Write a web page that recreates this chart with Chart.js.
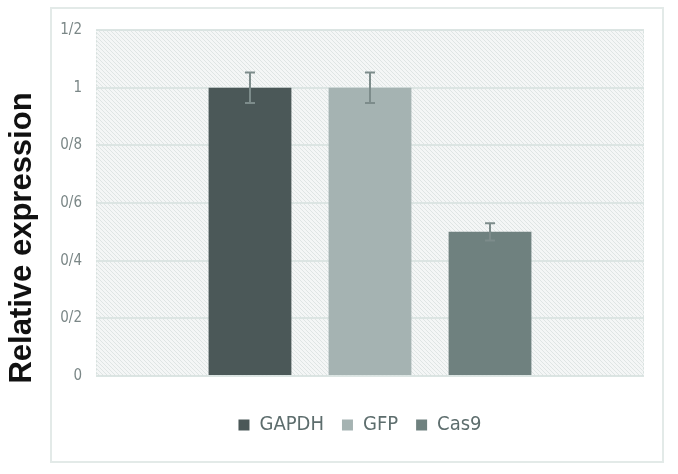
<!DOCTYPE html>
<html>
<head>
<meta charset="utf-8">
<script src="https://cdn.jsdelivr.net/npm/chart.js@4"></script>
<style>
  html, body { margin: 0; padding: 0; background: #fff; }
  #wrap { position: relative; width: 678px; height: 474px; }
  #frame { position: absolute; left: 50px; top: 7px; width: 610px; height: 452px; border: 2px solid #e3eae8; }
  canvas { position: absolute; left: 0; top: 0; }
</style>
</head>
<body>
<div id="wrap">
  <div id="frame"></div>
  <canvas id="chart" width="678" height="474"></canvas>
</div>
<script>
const categories = ['GAPDH', 'GFP', 'Cas9'];
const values = [1, 1, 0.5];
const errors = [0.053, 0.053, 0.03];
const colors = ['#4b5858', '#a5b3b2', '#6f817f'];
const yTickLabels = ['0', '0/2', '0/4', '0/6', '0/8', '1', '1/2'];
const yTitle = 'Relative expression';

const narrow = "'Liberation Sans Narrow', 'DejaVu Sans Condensed', sans-serif";

// diagonal hatch used behind the plot
function makeHatch() {
  const c = document.createElement('canvas');
  c.width = 4; c.height = 4;
  const g = c.getContext('2d');
  g.fillStyle = '#f4f6f6';
  g.fillRect(0, 0, 4, 4);
  g.strokeStyle = '#dfe5e4';
  g.lineWidth = 1;
  g.beginPath();
  g.moveTo(-1, -1); g.lineTo(5, 5);
  g.moveTo(-1, 3); g.lineTo(1, 5);
  g.moveTo(3, -1); g.lineTo(5, 1);
  g.stroke();
  return c;
}

const plotBg = {
  id: 'plotBg',
  afterLayout(chart) {
    // legend sits centred under the frame, not the whole canvas
    chart.legend.left = 76;
  },
  beforeDraw(chart) {
    const { ctx, chartArea: a } = chart;
    ctx.save();
    ctx.fillStyle = ctx.createPattern(makeHatch(), 'repeat');
    ctx.fillRect(a.left, a.top, a.right - a.left, a.bottom - a.top);
    ctx.restore();
  },
  afterDraw(chart) {
    const { ctx, chartArea: a } = chart;
    ctx.save();
    ctx.strokeStyle = '#d9e2e0';
    ctx.lineWidth = 1;
    ctx.setLineDash([2, 2]);
    ctx.strokeRect(a.left + 0.5, a.top + 0.5, a.right - a.left - 1, a.bottom - a.top - 1);
    ctx.restore();
    // y axis title
    ctx.save();
    ctx.translate(22, 238);
    ctx.rotate(-Math.PI / 2);
    ctx.font = "bold 31px 'Liberation Sans', Arial, sans-serif";
    ctx.fillStyle = '#111';
    ctx.textAlign = 'center';
    ctx.textBaseline = 'middle';
    ctx.fillText(yTitle, 0, 0);
    ctx.restore();
  }
};

const errorBars = {
  id: 'errorBars',
  afterDatasetsDraw(chart) {
    const { ctx } = chart;
    const y = chart.scales.y;
    ctx.save();
    ctx.strokeStyle = '#7d8c8b';
    ctx.lineWidth = 2;
    chart.data.datasets.forEach((ds, i) => {
      const bar = chart.getDatasetMeta(i).data[0];
      const v = ds.data[0], e = errors[i];
      const top = y.getPixelForValue(v + e), bot = y.getPixelForValue(v - e);
      ctx.beginPath();
      ctx.moveTo(bar.x, top); ctx.lineTo(bar.x, bot);
      ctx.moveTo(bar.x - 5, top); ctx.lineTo(bar.x + 5, top);
      ctx.moveTo(bar.x - 5, bot); ctx.lineTo(bar.x + 5, bot);
      ctx.stroke();
    });
    ctx.restore();
  }
};

new Chart(document.getElementById('chart'), {
  type: 'bar',
  data: {
    labels: [''],
    datasets: categories.map((name, i) => ({
      label: name,
      data: [values[i]],
      backgroundColor: colors[i],
      borderWidth: 0,
      categoryPercentage: 0.657,
      barPercentage: 0.69
    }))
  },
  options: {
    responsive: false,
    animation: false,
    layout: { padding: { top: 30, right: 34, bottom: 29, left: 0 } },
    plugins: {
      legend: {
        position: 'bottom',
        labels: {
          boxWidth: 11, boxHeight: 11, padding: 18,
          color: '#5d6d6d',
          font: { family: narrow, size: 20 }
        }
      },
      tooltip: { enabled: false }
    },
    scales: {
      x: {
        ticks: { display: false },
        grid: { display: false },
        border: { display: false },
        afterFit: s => { s.height = 21; }
      },
      y: {
        min: 0, max: 1.2,
        ticks: {
          stepSize: 0.2,
          padding: 14,
          color: '#7b8787',
          font: { family: narrow, size: 15 },
          callback: (v, i) => yTickLabels[i]
        },
        grid: { color: '#dce5e3', lineWidth: 2, drawTicks: false },
        border: { display: false },
        afterFit: s => { s.width = 96; }
      }
    }
  },
  plugins: [plotBg, errorBars]
});
</script>
</body>
</html>
